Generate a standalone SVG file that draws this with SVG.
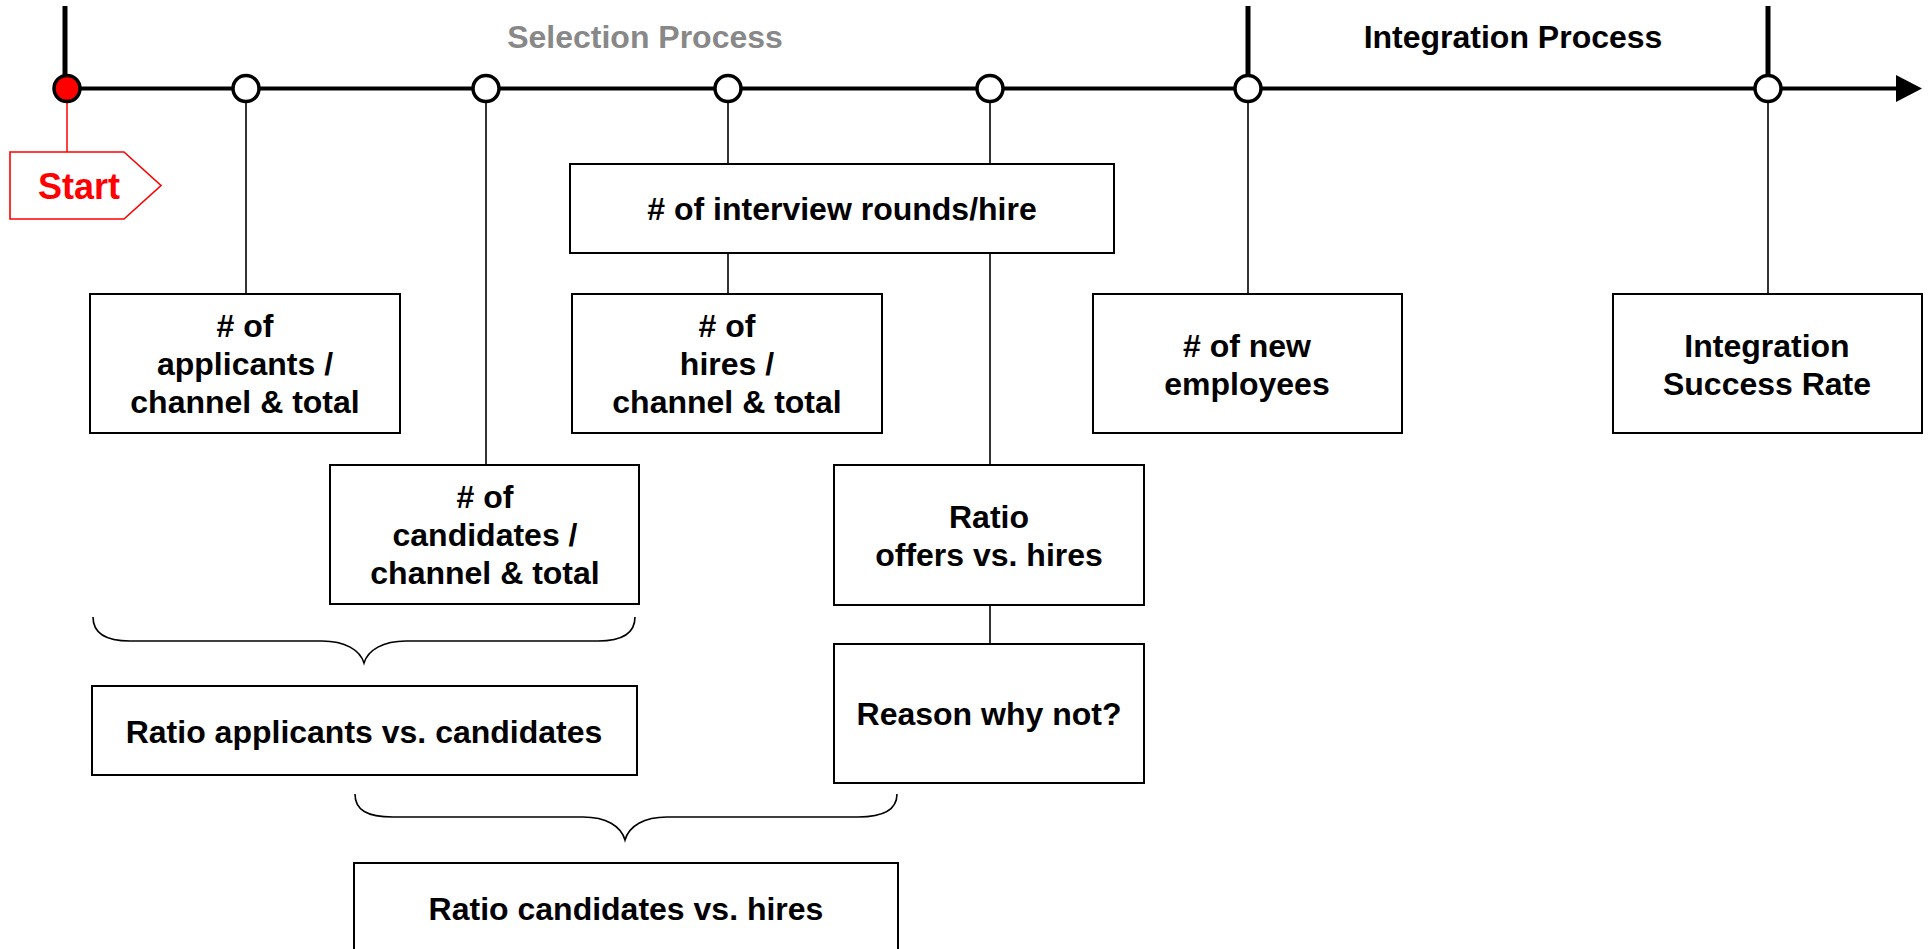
<svg xmlns="http://www.w3.org/2000/svg" width="1928" height="949" viewBox="0 0 1928 949">
<style>
.box{fill:#fff;stroke:#000;stroke-width:2}
.t{font-family:"Liberation Sans",Arial,sans-serif;font-weight:bold;font-size:32px;fill:#000;text-anchor:middle}
.con{stroke:#000;stroke-width:1.6;fill:none}
.brace{stroke:#000;stroke-width:1.6;fill:none}
.dot{fill:#fff;stroke:#000;stroke-width:3.5}
</style>
<rect width="1928" height="949" fill="#fff"/>
<g id="connectors">
<line class="con" x1="246" y1="88" x2="246" y2="294"/>
<line class="con" x1="486" y1="88" x2="486" y2="465"/>
<line class="con" x1="728" y1="88" x2="728" y2="294"/>
<line class="con" x1="990" y1="88" x2="990" y2="465"/>
<line class="con" x1="990" y1="605" x2="990" y2="644"/>
<line class="con" x1="1248" y1="88" x2="1248" y2="294"/>
<line class="con" x1="1768" y1="88" x2="1768" y2="294"/>
<line x1="67" y1="88" x2="67" y2="152" stroke="#ff0000" stroke-width="1.5"/>
<path class="brace" d="M93,617 C93,633 105,641 130,641 L322,641 C345,641 360,650 364,663 C368,650 383,641 406,641 L598,641 C623,641 635,633 635,617"/>
<path class="brace" d="M355,794 C355,810 367,817 393,817 L583,817 C606,817 621,826 625,840 C629,826 644,817 667,817 L858,817 C884,817 897,810 897,794"/>
</g>
<g id="timeline">
<line x1="65" y1="6" x2="65" y2="88" stroke="#000" stroke-width="5"/>
<line x1="1248" y1="6" x2="1248" y2="88" stroke="#000" stroke-width="5"/>
<line x1="1768" y1="6" x2="1768" y2="88" stroke="#000" stroke-width="5"/>
<line x1="67" y1="88.5" x2="1898" y2="88.5" stroke="#000" stroke-width="4"/>
<polygon points="1896,75 1922,88.5 1896,102" fill="#000"/>
<text x="645" y="48" class="t" style="fill:#888888">Selection Process</text>
<text x="1513" y="48" class="t">Integration Process</text>
</g>
<g id="milestones">
<ellipse cx="67" cy="88.5" rx="13" ry="13" fill="#ff0000" stroke="#000" stroke-width="3.5"/>
<ellipse class="dot" cx="246" cy="88.5" rx="13" ry="13"/>
<ellipse class="dot" cx="486" cy="88.5" rx="13" ry="13"/>
<ellipse class="dot" cx="728" cy="88.5" rx="13" ry="13"/>
<ellipse class="dot" cx="990" cy="88.5" rx="13" ry="13"/>
<ellipse class="dot" cx="1248" cy="88.5" rx="13" ry="13"/>
<ellipse class="dot" cx="1768" cy="88.5" rx="13" ry="13"/>
</g>
<g id="start">
<polygon points="10,152 124,152 161,185.5 124,219 10,219" fill="#fff" stroke="#ff0000" stroke-width="1.6"/>
<text x="79" y="199" class="t" style="fill:#ff0000;font-size:36px">Start</text>
</g>
<g id="applicants">
<rect class="box" x="90" y="294" width="310" height="139"/>
<text class="t" x="245" y="337">
<tspan x="245" y="337"># of</tspan><tspan x="245" y="375">applicants /</tspan><tspan x="245" y="413">channel &amp; total</tspan></text>
</g>
<g id="candidates">
<rect class="box" x="330" y="465" width="309" height="139"/>
<text class="t"><tspan x="485" y="508"># of</tspan><tspan x="485" y="546">candidates /</tspan><tspan x="485" y="584">channel &amp; total</tspan></text>
</g>
<g id="interview">
<rect class="box" x="570" y="164" width="544" height="89"/>
<text class="t" x="842" y="220"># of interview rounds/hire</text>
</g>
<g id="hires">
<rect class="box" x="572" y="294" width="310" height="139"/>
<text class="t"><tspan x="727" y="337"># of</tspan><tspan x="727" y="375">hires /</tspan><tspan x="727" y="413">channel &amp; total</tspan></text>
</g>
<g id="offers">
<rect class="box" x="834" y="465" width="310" height="140"/>
<text class="t"><tspan x="989" y="528">Ratio</tspan><tspan x="989" y="566">offers vs. hires</tspan></text>
</g>
<g id="reason">
<rect class="box" x="834" y="644" width="310" height="139"/>
<text class="t" x="989" y="725">Reason why not?</text>
</g>
<g id="newemployees">
<rect class="box" x="1093" y="294" width="309" height="139"/>
<text class="t"><tspan x="1247" y="357"># of new</tspan><tspan x="1247" y="395">employees</tspan></text>
</g>
<g id="integration">
<rect class="box" x="1613" y="294" width="309" height="139"/>
<text class="t"><tspan x="1767" y="357">Integration</tspan><tspan x="1767" y="395">Success Rate</tspan></text>
</g>
<g id="ratio-app-cand">
<rect class="box" x="92" y="686" width="545" height="89"/>
<text class="t" x="364" y="743">Ratio applicants vs. candidates</text>
</g>
<g id="ratio-cand-hires">
<rect class="box" x="354" y="863" width="544" height="120"/>
<text class="t" x="626" y="920">Ratio candidates vs. hires</text>
</g>
</svg>
